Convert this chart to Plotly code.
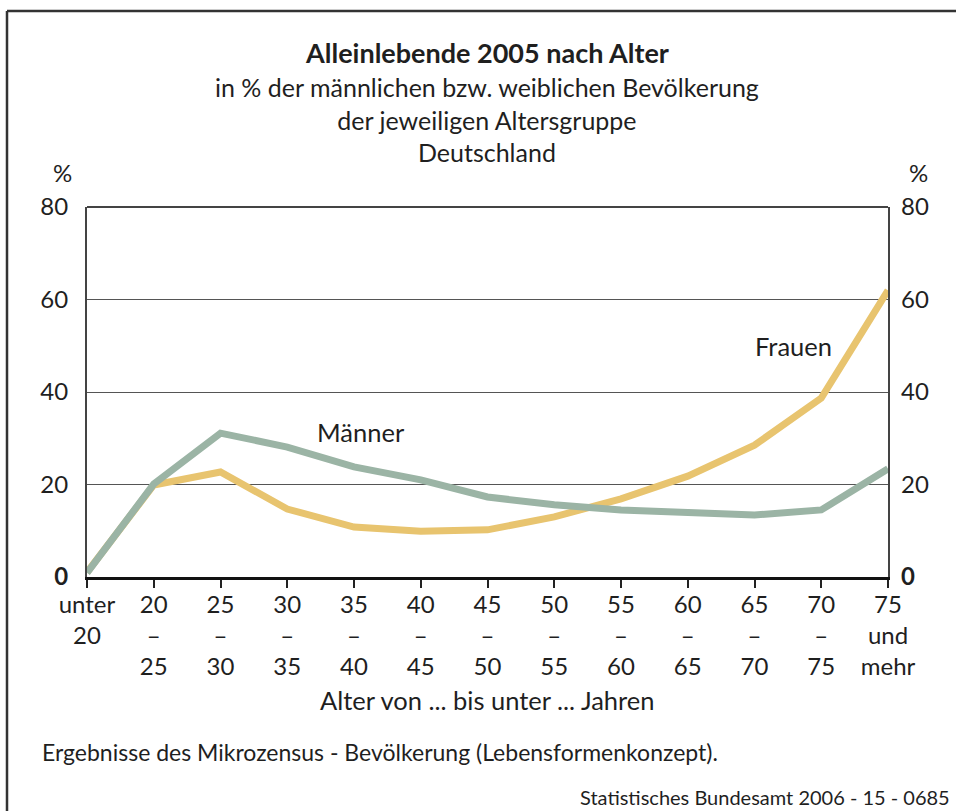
import plotly.graph_objects as go

# Altersgruppen (Kategorien der x-Achse)
ALTERSGRUPPEN = [
    "unter<br>20",
    "20<br>–<br>25",
    "25<br>–<br>30",
    "30<br>–<br>35",
    "35<br>–<br>40",
    "40<br>–<br>45",
    "45<br>–<br>50",
    "50<br>–<br>55",
    "55<br>–<br>60",
    "60<br>–<br>65",
    "65<br>–<br>70",
    "70<br>–<br>75",
    "75<br>und<br>mehr",
]

# Anteil Alleinlebender in %
MAENNER = [0.9, 20.1, 31.1, 28.1, 23.8, 21.0, 17.3, 15.6, 14.5, 14.1, 13.4, 14.5, 23.4]
FRAUEN = [1.0, 19.9, 22.7, 14.7, 10.8, 9.9, 10.2, 13.0, 16.9, 21.8, 28.5, 38.7, 62.0]

Y_TICKS = [0, 20, 40, 60, 80]
Y_TEXT = ["<b>0</b>", "20", "40", "60", "80"]

FONT = "Lato"
TEXT = "#1f1f1f"

# Pixel-Geometrie des Plotbereichs
W, H = 956, 811
L, R, T, B = 87, 888, 207, 577


def px_x(x):
    return (x - L) / (R - L)


def px_y(y):
    return (B - y) / (B - T)


idx = list(range(len(ALTERSGRUPPEN)))

fig = go.Figure()

fig.add_trace(
    go.Scatter(
        x=idx,
        y=FRAUEN,
        mode="lines",
        line=dict(color="#E8C46F", width=7),
        name="Frauen",
        cliponaxis=False,
    )
)

fig.add_trace(
    go.Scatter(
        x=idx,
        y=MAENNER,
        mode="lines",
        line=dict(color="#9BB4A5", width=7),
        name="Männer",
        yaxis="y2",
        cliponaxis=False,
    )
)

fig.update_xaxes(
    range=[0, len(ALTERSGRUPPEN) - 1],
    tickvals=idx,
    ticktext=ALTERSGRUPPEN,
    ticks="outside",
    ticklen=8,
    tickwidth=1.5,
    tickcolor="#222222",
    tickfont=dict(size=24, color=TEXT, family=FONT),
    ticklabelstandoff=-4,
    showgrid=False,
    zeroline=False,
    showline=True,
    linecolor="#111111",
    linewidth=3,
    mirror=False,
)

yaxis_common = dict(
    range=[0, 80],
    tickvals=Y_TICKS,
    ticktext=Y_TEXT,
    ticks="",
    tickfont=dict(size=24, color=TEXT, family=FONT),
    ticklabelstandoff=12,
    zeroline=False,
    fixedrange=True,
)

fig.update_layout(
    yaxis=dict(
        **yaxis_common,
        showgrid=True,
        gridcolor="#555555",
        gridwidth=1.3,
        showline=True,
        linecolor="#444444",
        linewidth=2,
        mirror=True,
    ),
    yaxis2=dict(
        **yaxis_common,
        overlaying="y",
        side="right",
        showgrid=False,
        showline=False,
    ),
)

# Obere Rahmenlinie des Plotbereichs
shapes = [
    dict(
        type="line",
        xref="paper",
        yref="paper",
        x0=0,
        x1=1,
        y0=1,
        y1=1,
        line=dict(color="#444444", width=2),
    ),
    # Rahmen um die ganze Grafik (oben und links)
    dict(
        type="line",
        xref="paper",
        yref="paper",
        x0=px_x(7),
        x1=px_x(960),
        y0=px_y(11),
        y1=px_y(11),
        line=dict(color="#333333", width=2.5),
    ),
    dict(
        type="line",
        xref="paper",
        yref="paper",
        x0=px_x(7),
        x1=px_x(7),
        y0=px_y(11),
        y1=px_y(815),
        line=dict(color="#333333", width=2.5),
    ),
]

annotations = [
    dict(
        text="<b>Alleinlebende 2005 nach Alter</b>",
        x=px_x(487),
        y=px_y(52),
        xanchor="center",
        yanchor="middle",
        font=dict(size=27),
    ),
    dict(
        text="in % der männlichen bzw. weiblichen Bevölkerung<br>der jeweiligen Altersgruppe<br>Deutschland",
        x=px_x(487),
        y=px_y(70),
        xanchor="center",
        yanchor="top",
        font=dict(size=25),
    ),
    dict(text="%", x=px_x(62), y=px_y(172), xanchor="center", yanchor="middle", font=dict(size=24)),
    dict(text="%", x=px_x(918), y=px_y(172), xanchor="center", yanchor="middle", font=dict(size=24)),
    dict(
        text="Männer",
        xref="x",
        yref="y",
        x=4.105,
        y=31.35,
        xanchor="center",
        yanchor="middle",
        font=dict(size=25.5),
    ),
    dict(
        text="Frauen",
        xref="x",
        yref="y",
        x=10.58,
        y=49.9,
        xanchor="center",
        yanchor="middle",
        font=dict(size=25.5),
    ),
    dict(
        text="Alter von ... bis unter ... Jahren",
        x=px_x(487),
        y=px_y(700),
        xanchor="center",
        yanchor="middle",
        font=dict(size=25.5),
    ),
    dict(
        text="Ergebnisse des Mikrozensus - Bevölkerung (Lebensformenkonzept).",
        x=px_x(40),
        y=px_y(752),
        xanchor="left",
        yanchor="middle",
        font=dict(size=23),
    ),
    dict(
        text="Statistisches Bundesamt 2006 - 15 - 0685",
        x=px_x(952),
        y=px_y(797),
        xanchor="right",
        yanchor="middle",
        font=dict(size=20),
    ),
]

for a in annotations:
    a.setdefault("xref", "paper")
    a.setdefault("yref", "paper")
    a["showarrow"] = False
    a["font"]["family"] = FONT
    a["font"]["color"] = TEXT

fig.update_layout(
    width=W,
    height=H,
    margin=dict(l=L, r=W - R, t=T, b=H - B, autoexpand=False),
    plot_bgcolor="#FFFFFF",
    paper_bgcolor="#FFFFFF",
    showlegend=False,
    font=dict(family=FONT, color=TEXT, size=22),
    shapes=shapes,
    annotations=annotations,
)

# Seitenrand des Browsers entfernen, damit die Grafik bei (0, 0) beginnt
fig.write_html(
    "out.html",
    config={"displayModeBar": False},
    post_script="document.body.style.margin='0';",
)
